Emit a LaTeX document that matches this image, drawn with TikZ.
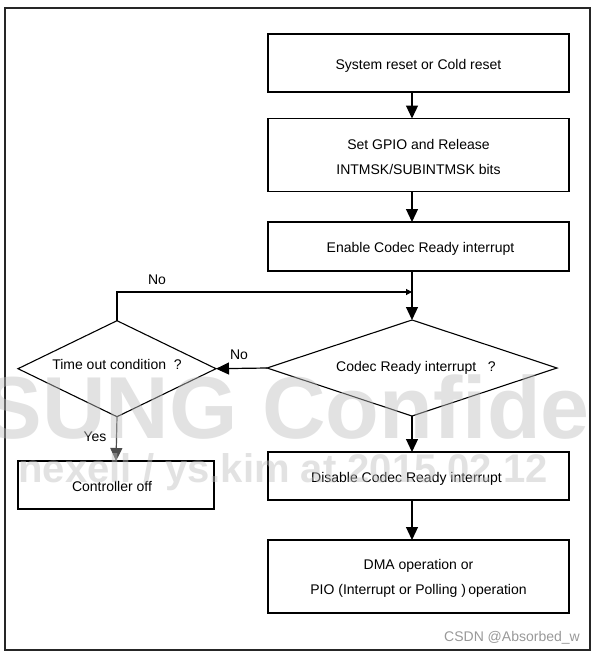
\documentclass[tikz,border=0pt]{standalone}
\usepackage{fontspec}
\setmainfont{Liberation Sans}
\usetikzlibrary{shapes.geometric,arrows.meta}
\begin{document}
\begin{tikzpicture}[x=1pt,y=-1pt,
  font=\fontsize{14}{25}\selectfont,
  box/.style={draw,line width=1.2pt,rectangle,inner sep=0pt,outer sep=0pt,minimum width=301pt,align=center},
  one/.style={text height=13pt,text depth=1pt},
  dia/.style={draw,line width=1.1pt,diamond,aspect=3,inner sep=0pt,outer sep=0pt},
  arr/.style={line width=1.2pt,-{Triangle[width=12pt,length=13pt]}},
  smallarr/.style={line width=1.1pt,-{Triangle[width=6pt,length=6pt]}},
  lbl/.style={inner sep=0pt},
  wm/.style={text=black!25,text opacity=0.45,inner sep=0pt,font=\bfseries}
]
\useasboundingbox (0,0) rectangle (597,656);
\fill[white] (0,0) rectangle (597,656);
% outer frame
\draw[line width=1.5pt,black!85] (5,8) rectangle (590,650);

% boxes
\node[box,one,minimum height=58pt] (b1) at (418.5,63) {System reset or Cold reset};
\node[box,text height=38.5pt,minimum height=73pt] (b2) at (418.5,155) {Set GPIO and Release\\INTMSK/SUBINTMSK bits};
\node[box,one,minimum height=49pt] (b3) at (418.5,246.5) {\hspace{4pt}Enable Codec Ready interrupt};
\node[dia,minimum width=290pt,minimum height=96pt] (cd) at (412,368) {\hspace{8pt}Codec Ready interrupt\ \ \ ?};
\node[dia,text height=5pt,text depth=3pt,minimum width=198pt,minimum height=96pt] (to) at (117,368.7) {Time out condition\ \ ?};
\node[box,one,minimum width=196pt,minimum height=48pt] (co) at (116,485) {Controller off\hspace{8pt}};
\node[box,one,minimum height=48pt] (b4) at (418.5,476) {Disable Codec Ready interrupt\hspace{24pt}};
\node[box,text height=39.5pt,minimum height=73pt] (b5) at (418.5,576.5) {DMA operation or\hspace{14pt}\\PIO\ (Interrupt or Polling\ )\,operation};

% connectors
\draw[arr] (b1.south -| cd.north) -- (b2.north -| cd.north);
\draw[arr] (b2.south -| cd.north) -- (b3.north -| cd.north);
\draw[arr] (b3.south -| cd.north) -- (cd.north);
\coordinate (jn) at (412,292);
\draw[smallarr] (to.north) |- (jn);
\draw[arr] (cd.west) -- (to.east);
\draw[arr,black!70] (to.south) -- (co.north);
\draw[arr] (cd.south) -- (b4.north -| cd.south);
\draw[arr] (b4.south -| cd.south) -- (b5.north -| cd.south);

% labels
\node[lbl] (no1) at (157,280) {No};
\node[lbl] (no2) at (239,355) {No};
\node[lbl] (yes) at (95,437) {Yes};

% watermark
\node[wm,anchor=base east,font=\bfseries\fontsize{88}{88}\selectfont] (wm1) at (590,438) {SUNG Confide};
\node[wm,anchor=base east,font=\bfseries\fontsize{40}{40}\selectfont] (wm2) at (548,482) {nexell / ys.kim at 2015 02 12};

% credit
\node[inner sep=0pt,anchor=east,text=black!40] (csdn) at (580,638) {CSDN @Absorbed\_w};
\end{tikzpicture}
\end{document}
